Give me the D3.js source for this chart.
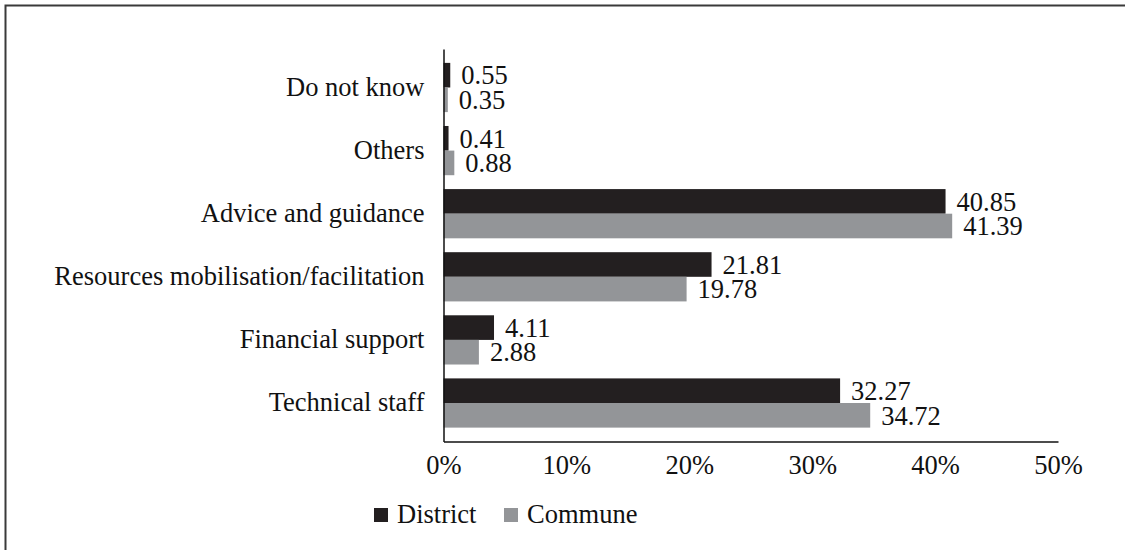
<!DOCTYPE html>
<html>
<head>
<meta charset="utf-8">
<script src="https://cdn.jsdelivr.net/npm/d3@7"></script>
<style>
  body { margin: 0; background: #fff; }
</style>
</head>
<body>
<svg id="chart" width="1125" height="550"></svg>
<script>
// categories top to bottom
var categories = ["Do not know", "Others", "Advice and guidance", "Resources mobilisation/facilitation", "Financial support", "Technical staff"]
var district = [0.55, 0.41, 40.85, 21.81, 4.11, 32.27]
var commune = [0.35, 0.88, 41.39, 19.78, 2.88, 34.72]
var seriesNames = ["District", "Commune"]
var xTicks = [0, 10, 20, 30, 40, 50]

var colors = { District: "#231f20", Commune: "#939598" }
var FONT = "Liberation Serif"
var FS = 26.5

var svg = d3.select("#chart")

// frame (only top/left visible in the crop)
svg.append("rect")
    .attr("x", 5.5).attr("y", 5.5)
    .attr("width", 1140).attr("height", 560)
    .attr("fill", "none")
    .attr("stroke", "#3a3a3a")
    .attr("stroke-width", 2)

var margin = {top: 49, left: 443.5, right: 1058, bottom: 441.5}

var x = d3.scaleLinear().domain([0, 50]).range([margin.left, margin.right])
var y = d3.scaleBand().domain(categories).range([margin.top, margin.bottom])
    .paddingInner(0.22).paddingOuter(0.22)
var ySub = d3.scaleBand().domain(seriesNames).range([0, y.bandwidth()])

var rows = categories.map(function(c, i){
    return {cat: c, values: [{s: "District", v: district[i]}, {s: "Commune", v: commune[i]}]}
})

var groups = svg.selectAll("g.row").data(rows).enter().append("g")
    .attr("class", "row")
    .attr("transform", function(d){ return "translate(0," + y(d.cat) + ")" })

groups.selectAll("rect").data(function(d){ return d.values }).enter().append("rect")
    .attr("x", x(0))
    .attr("y", function(d){ return ySub(d.s) })
    .attr("width", function(d){ return x(d.v) - x(0) })
    .attr("height", ySub.bandwidth())
    .attr("fill", function(d){ return colors[d.s] })

groups.selectAll("text.val").data(function(d){ return d.values }).enter().append("text")
    .attr("class", "val")
    .attr("x", function(d){ return x(d.v) + 11 })
    .attr("y", function(d){ return ySub(d.s) + ySub.bandwidth() / 2 })
    .attr("dy", "0.35em")
    .attr("font-family", FONT)
    .attr("font-size", FS)
    .attr("fill", "#111")
    .text(function(d){ return d.v.toFixed(2) })

// category labels
var yAxis = d3.axisLeft(y).tickSize(0).tickPadding(19)
var gy = svg.append("g").attr("transform", "translate(" + margin.left + ",0)").call(yAxis)
gy.attr("font-family", FONT).attr("font-size", FS)
gy.select(".domain").attr("stroke", "#111").attr("stroke-width", 1.5)
gy.selectAll("text").attr("fill", "#111")

// x axis
var xAxis = d3.axisBottom(x).tickValues(xTicks).tickSize(0).tickPadding(14)
    .tickFormat(function(d){ return d + "%" })
var gx = svg.append("g").attr("transform", "translate(0," + margin.bottom + ")").call(xAxis)
gx.attr("font-family", FONT).attr("font-size", FS)
gx.select(".domain").attr("stroke", "#111").attr("stroke-width", 1.5)
gx.selectAll("text").attr("fill", "#111")

// legend
var legendX = [374, 504]
var legend = svg.selectAll("g.legend").data(seriesNames).enter().append("g")
    .attr("class", "legend")
    .attr("transform", function(d, i){ return "translate(" + legendX[i] + ",508)" })
legend.append("rect").attr("width", 14).attr("height", 14)
    .attr("fill", function(d){ return colors[d] })
legend.append("text").attr("x", 23).attr("y", 15)
    .attr("font-family", FONT)
    .attr("font-size", FS)
    .attr("fill", "#111")
    .text(function(d){ return d })
</script>
</body>
</html>
